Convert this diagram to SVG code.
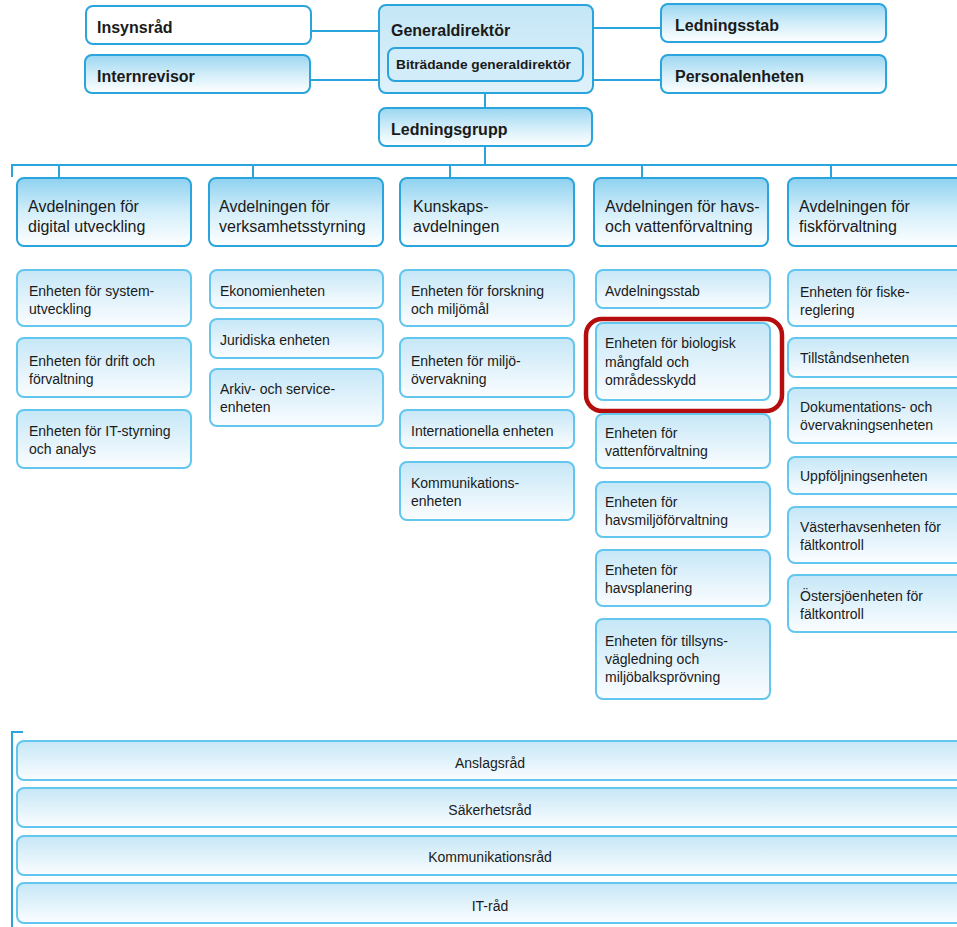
<svg xmlns="http://www.w3.org/2000/svg" width="957" height="927" viewBox="0 0 957 927">
<defs>
<linearGradient id="gTop" x1="0" y1="0" x2="0" y2="1"><stop offset="0" stop-color="#9bd6f1"/><stop offset="0.55" stop-color="#d6effa"/><stop offset="1" stop-color="#ffffff"/></linearGradient>
<linearGradient id="gDept" x1="0" y1="0" x2="0" y2="1"><stop offset="0" stop-color="#8ed1ef"/><stop offset="0.5" stop-color="#d3eefa"/><stop offset="1" stop-color="#ffffff"/></linearGradient>
<linearGradient id="gUnit" x1="0" y1="0" x2="0" y2="1"><stop offset="0" stop-color="#c6e7f7"/><stop offset="1" stop-color="#fbfdff"/></linearGradient>
<linearGradient id="gGD" x1="0" y1="0" x2="0" y2="1"><stop offset="0" stop-color="#c4e6f6"/><stop offset="1" stop-color="#dff2fb"/></linearGradient>
</defs>
<style>
.top rect{stroke:#2aa4dc;stroke-width:2;fill:url(#gTop)}
.dept rect{stroke:#2aa4dc;stroke-width:2;fill:url(#gDept)}
.unit rect{stroke:#62c6ee;stroke-width:2;fill:url(#gUnit)}
.bar rect{stroke:#62c6ee;stroke-width:2;fill:url(#gUnit)}
.conn path{stroke:#2aa4dc;stroke-width:2;fill:none}
text{font-family:"Liberation Sans",Arial,sans-serif;fill:#1a1a1a}
.tb{font-size:16px;font-weight:bold}
.ts{font-size:13.7px;font-weight:bold}
.td{font-size:16px}
.tu{font-size:14px}
.tc{font-size:14px;text-anchor:middle}
</style>

<g class="conn" id="connectors">
<path d="M311 31H379"/>
<path d="M310 80H379"/>
<path d="M593 28H661"/>
<path d="M593 80H661"/>
<path d="M485 93V108"/>
<path d="M485 146V165"/>
<path d="M12 177V165H957"/>
<path d="M59 165V178M253 165V178M450 165V178M642 165V178M831 165V178"/>
<path d="M23 732H12V927"/>
</g>

<g class="top" id="insynsrad"><rect x="86" y="6" width="225" height="38" rx="7" style="fill:#fff"/><text class="tb" x="97" y="33">Insynsråd</text></g>
<g class="top" id="internrevisor"><rect x="85" y="55" width="225" height="38" rx="7"/><text class="tb" x="97" y="82">Internrevisor</text></g>
<g class="top" id="generaldirektor"><rect x="379" y="5" width="214" height="88" rx="7" style="fill:url(#gGD)"/><text class="tb" x="391" y="36">Generaldirektör</text>
<rect x="388" y="48" width="195" height="33" rx="7" style="fill:#d2edf9"/><text class="ts" x="396" y="69">Biträdande generaldirektör</text></g>
<g class="top" id="ledningsstab"><rect x="661" y="4" width="225" height="38" rx="7"/><text class="tb" x="675" y="31">Ledningsstab</text></g>
<g class="top" id="personalenheten"><rect x="661" y="55" width="225" height="38" rx="7"/><text class="tb" x="675" y="82">Personalenheten</text></g>
<g class="top" id="ledningsgrupp"><rect x="379" y="108" width="213" height="38" rx="7"/><text class="tb" x="391" y="135">Ledningsgrupp</text></g>

<g class="dept" id="dept-digital"><rect x="17" y="178" width="174" height="68" rx="7"/><text class="td" x="28" y="212">Avdelningen för</text><text class="td" x="28" y="232">digital utveckling</text></g>
<g class="dept" id="dept-verksamhet"><rect x="209" y="178" width="174" height="68" rx="7"/><text class="td" x="219" y="212">Avdelningen för</text><text class="td" x="219" y="232">verksamhetsstyrning</text></g>
<g class="dept" id="dept-kunskap"><rect x="400" y="178" width="174" height="68" rx="7"/><text class="td" x="413" y="212">Kunskaps-</text><text class="td" x="413" y="232">avdelningen</text></g>
<g class="dept" id="dept-havs"><rect x="594" y="178" width="174" height="68" rx="7"/><text class="td" x="605" y="212">Avdelningen för havs-</text><text class="td" x="605" y="232">och vattenförvaltning</text></g>
<g class="dept" id="dept-fisk"><rect x="788" y="178" width="182" height="68" rx="7"/><text class="td" x="799" y="212">Avdelningen för</text><text class="td" x="799" y="232">fiskförvaltning</text></g>

<g class="unit" id="u-system"><rect x="17" y="270" width="174" height="56" rx="7"/><text class="tu" x="29" y="296">Enheten för system-</text><text class="tu" x="29" y="314">utveckling</text></g>
<g class="unit" id="u-drift"><rect x="17" y="338" width="174" height="59" rx="7"/><text class="tu" x="29" y="366">Enheten för drift och</text><text class="tu" x="29" y="384">förvaltning</text></g>
<g class="unit" id="u-itstyr"><rect x="17" y="410" width="174" height="58" rx="7"/><text class="tu" x="29" y="436">Enheten för IT-styrning</text><text class="tu" x="29" y="454">och analys</text></g>

<g class="unit" id="u-ekonomi"><rect x="210" y="270" width="173" height="38" rx="7"/><text class="tu" x="220" y="296">Ekonomienheten</text></g>
<g class="unit" id="u-juridiska"><rect x="210" y="319" width="173" height="39" rx="7"/><text class="tu" x="220" y="345">Juridiska enheten</text></g>
<g class="unit" id="u-arkiv"><rect x="210" y="369" width="173" height="57" rx="7"/><text class="tu" x="220" y="394">Arkiv- och service-</text><text class="tu" x="220" y="412">enheten</text></g>

<g class="unit" id="u-forskning"><rect x="400" y="270" width="174" height="56" rx="7"/><text class="tu" x="411" y="296">Enheten för forskning</text><text class="tu" x="411" y="314">och miljömål</text></g>
<g class="unit" id="u-miljo"><rect x="400" y="338" width="174" height="59" rx="7"/><text class="tu" x="411" y="366">Enheten för miljö-</text><text class="tu" x="411" y="384">övervakning</text></g>
<g class="unit" id="u-internationella"><rect x="400" y="410" width="174" height="38" rx="7"/><text class="tu" x="411" y="436">Internationella enheten</text></g>
<g class="unit" id="u-kommunikation"><rect x="400" y="462" width="174" height="58" rx="7"/><text class="tu" x="411" y="488">Kommunikations-</text><text class="tu" x="411" y="506">enheten</text></g>

<g class="unit" id="u-avdstab"><rect x="596" y="270" width="174" height="38" rx="7"/><text class="tu" x="605" y="296">Avdelningsstab</text></g>
<g class="unit" id="u-biologisk"><rect x="596" y="323" width="174" height="77" rx="7"/><text class="tu" x="605" y="348">Enheten för biologisk</text><text class="tu" x="605" y="366.5">mångfald och</text><text class="tu" x="605" y="385">områdesskydd</text>
<rect x="586" y="319" width="196" height="92" rx="16" style="fill:none;stroke:#b50d0d;stroke-width:4.5"/></g>
<g class="unit" id="u-vatten"><rect x="596" y="414" width="174" height="54" rx="7"/><text class="tu" x="605" y="438">Enheten för</text><text class="tu" x="605" y="456">vattenförvaltning</text></g>
<g class="unit" id="u-havsmiljo"><rect x="596" y="482" width="174" height="55" rx="7"/><text class="tu" x="605" y="507">Enheten för</text><text class="tu" x="605" y="525">havsmiljöförvaltning</text></g>
<g class="unit" id="u-havsplanering"><rect x="596" y="550" width="174" height="56" rx="7"/><text class="tu" x="605" y="575">Enheten för</text><text class="tu" x="605" y="593">havsplanering</text></g>
<g class="unit" id="u-tillsyn"><rect x="596" y="619" width="174" height="80" rx="7"/><text class="tu" x="605" y="646">Enheten för tillsyns-</text><text class="tu" x="605" y="664">vägledning och</text><text class="tu" x="605" y="682">miljöbalksprövning</text></g>

<g class="unit" id="u-fiskereglering"><rect x="788" y="270" width="182" height="56" rx="7"/><text class="tu" x="800" y="297">Enheten för fiske-</text><text class="tu" x="800" y="315">reglering</text></g>
<g class="unit" id="u-tillstand"><rect x="788" y="338" width="182" height="39" rx="7"/><text class="tu" x="800" y="363">Tillståndsenheten</text></g>
<g class="unit" id="u-dokumentation"><rect x="788" y="388" width="182" height="55" rx="7"/><text class="tu" x="800" y="412">Dokumentations- och</text><text class="tu" x="800" y="430">övervakningsenheten</text></g>
<g class="unit" id="u-uppfoljning"><rect x="788" y="457" width="182" height="37" rx="7"/><text class="tu" x="800" y="481">Uppföljningsenheten</text></g>
<g class="unit" id="u-vasterhavet"><rect x="788" y="507" width="182" height="56" rx="7"/><text class="tu" x="800" y="532">Västerhavsenheten för</text><text class="tu" x="800" y="550">fältkontroll</text></g>
<g class="unit" id="u-ostersjon"><rect x="788" y="575" width="182" height="57" rx="7"/><text class="tu" x="800" y="601">Östersjöenheten för</text><text class="tu" x="800" y="619">fältkontroll</text></g>

<g class="bar" id="b-anslag"><rect x="17" y="741" width="955" height="39" rx="7"/><text class="tc" x="490" y="768">Anslagsråd</text></g>
<g class="bar" id="b-sakerhet"><rect x="17" y="788" width="955" height="39" rx="7"/><text class="tc" x="490" y="815">Säkerhetsråd</text></g>
<g class="bar" id="b-kommunikation"><rect x="17" y="836" width="955" height="39" rx="7"/><text class="tc" x="490" y="862">Kommunikationsråd</text></g>
<g class="bar" id="b-it"><rect x="17" y="883" width="955" height="40" rx="7"/><text class="tc" x="490" y="911">IT-råd</text></g>
</svg>
